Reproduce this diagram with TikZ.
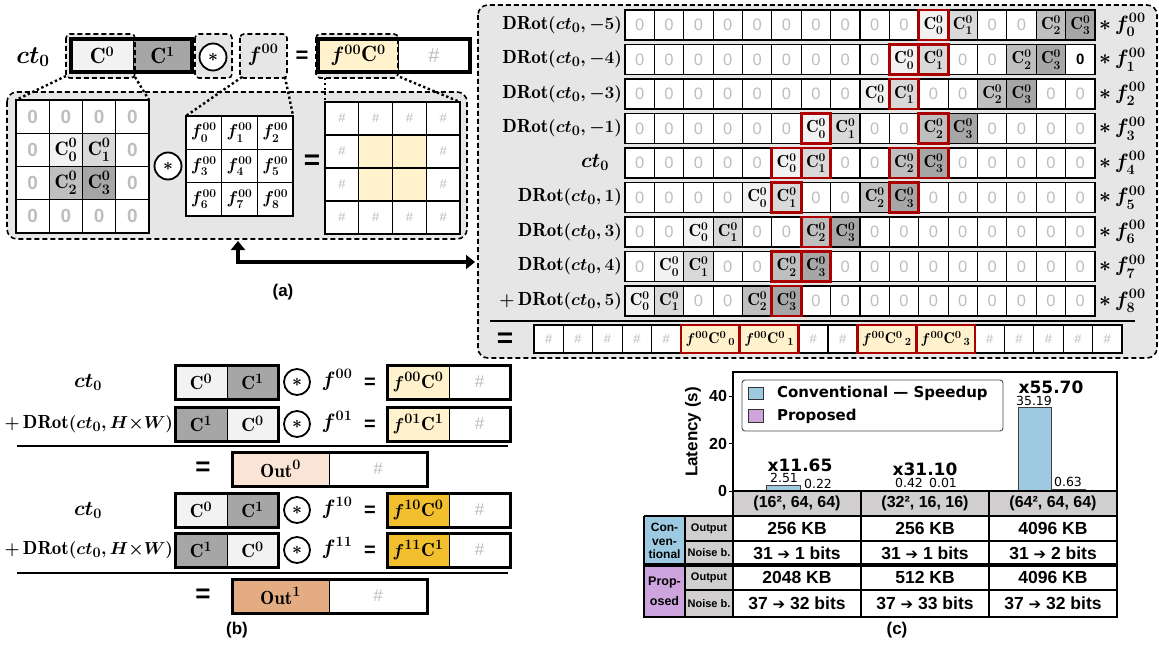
\documentclass[tikz,border=0pt]{standalone}
\usepackage{amsmath}
\usepackage{fontspec}
\newfontfamily\arial{Liberation Sans}
\newfontfamily\dejavu{DejaVu Sans}
\usetikzlibrary{arrows.meta}
\definecolor{bgG}{RGB}{231,230,230}
\definecolor{cf0}{RGB}{242,242,242}
\definecolor{cf1}{RGB}{217,217,217}
\definecolor{cf2}{RGB}{191,191,191}
\definecolor{cf3}{RGB}{166,166,166}
\definecolor{yel}{RGB}{255,242,204}
\definecolor{gold}{RGB}{242,192,46}
\definecolor{outA}{RGB}{249,228,214}
\definecolor{outB}{RGB}{228,172,130}
\definecolor{dred}{RGB}{170,0,0}
\definecolor{zg}{RGB}{190,190,190}
\definecolor{blu}{RGB}{158,202,225}
\definecolor{pur}{RGB}{206,164,222}
\definecolor{thg}{RGB}{208,206,206}
\newcommand{\fs}[1]{\fontsize{#1}{#1}\selectfont}
\newcommand{\zr}{{\arial\fs{16.5}\color{zg}0}}
\newcommand{\zrb}{{\arial\bfseries\fs{19}\color{zg}0}}
\newcommand{\hs}{{\arial\fs{13}\color{zg}\#}}
\newcommand{\hsb}{{\arial\fs{17}\color{zg}\#}}
\newcommand{\bmth}[2]{{\fs{#1}\boldmath$#2$}}
\newcommand{\Cz}[1]{\bmth{17.5}{\mathrm{C}^0_{#1}}}
\newcommand{\Cb}[1]{\bmth{19.5}{\mathrm{C}^0_{#1}}}
% #1 row, #2 zero cells, #3 C cells col/idx, #4 f index
\newcommand{\prow}[4]{%
  \pgfmathsetmacro{\yc}{25+34.5*#1}
  \foreach \c in {#2}{\node[pc] (p#1-\c) at ({625+29.375*(\c+0.5)},\yc) {\zr};}
  \foreach \c/\n in {#3}{\node[pc,fill=cf\n] (q#1-\c) at ({625+29.375*(\c+0.5)},\yc) {\Cz{\n}};}
  \draw[line width=1.8pt] (625,\yc-15) rectangle (1095,\yc+15);
  \node[anchor=west] (fl#1) at (1099,\yc) {\bmth{22}{\ast\,f^{00}_{#4}}};
}
\begin{document}
\begin{tikzpicture}[x=1pt,y=-1pt,
  every node/.style={inner sep=0pt, outer sep=0pt},
  dsh/.style={dash pattern=on 5pt off 3pt, line width=1.6pt},
  pc/.style={draw=black, line width=1.1pt, fill=white, minimum width=29.375pt, minimum height=30pt},
  lg/.style={draw=black, line width=1.1pt, fill=white, minimum width=33.25pt, minimum height=33.25pt},
  fg/.style={draw=black, line width=1.1pt, fill=white, minimum width=35.7pt, minimum height=33.3pt},
  og/.style={draw=black, line width=1.1pt, fill=white, minimum width=33.75pt, minimum height=33pt},
  oc/.style={circle, draw=black, line width=1.8pt, fill=white, minimum size=27pt},
  bc/.style={draw=black, line width=1pt, minimum height=34pt},
  dotl/.style={line width=2.4pt, dash pattern=on 2.4pt off 2.6pt},
  rb/.style={draw=dred, line width=2.8pt},
  tl/.style={line width=1.1pt},
]
\useasboundingbox (0,0) rectangle (1159,647);

% ================= (a) left =================
\draw[dsh, fill=bgG, rounded corners=10pt] (7,92) rectangle (467,239);
\fill[bgG, rounded corners=4pt] (66,34) rectangle (135,78);
\fill[bgG, rounded corners=4pt] (195,34) rectangle (232,78);
\fill[bgG, rounded corners=4pt] (240,34) rectangle (287,78);
\fill[bgG, rounded corners=4pt] (316,34) rectangle (398,78);
\node (ctA) at (33,57) {\bmth{23}{ct_0}};
\node[draw=black, line width=1pt, fill=cf0, minimum width=62pt, minimum height=33pt] (tC0) at (102,55.5) {\bmth{22}{\mathrm{C}^0}};
\node[draw=black, line width=1pt, fill=cf3, minimum width=59pt, minimum height=33pt] (tC1) at (162.5,55.5) {\bmth{22}{\mathrm{C}^1}};
\draw[line width=3.5pt] (71,39) rectangle (192,72);
\node[oc] (tO) at (213,57) {\bmth{18}{\ast}};
\node (tF) at (263,55) {\bmth{22}{f^{00}}};
\node (tE) at (302,57) {\arial\bfseries\fs{22}=};
\node[draw=black, line width=1pt, fill=yel, minimum width=80pt, minimum height=33pt] (tY) at (358,55.5) {\bmth{22}{f^{00}\mathrm{C}^0}};
\node[draw=black, line width=1pt, fill=white, minimum width=72pt, minimum height=33pt] (tH) at (434,55.5) {{\arial\fs{20}\color{zg}\#}};
\draw[line width=3.5pt] (318,39) rectangle (470,72);
\draw[dsh, rounded corners=4pt] (66,34) rectangle (135,78);
\draw[dsh, rounded corners=4pt] (195,34) rectangle (232,78);
\draw[dsh, rounded corners=4pt] (240,34) rectangle (287,78);
\draw[dsh, rounded corners=4pt] (316,34) rectangle (398,78);

% left 4x4 grid
\foreach \i/\j in {0/0,0/1,0/2,0/3,1/0,1/3,2/0,2/3,3/0,3/1,3/2,3/3}
  \node[lg] (L\i\j) at ({16+33.25*(\j+0.5)},{100+33.25*(\i+0.5)}) {\zrb};
\node[lg,fill=cf0] (LC0) at ({16+33.25*1.5},{100+33.25*1.5}) {\Cb{0}};
\node[lg,fill=cf1] (LC1) at ({16+33.25*2.5},{100+33.25*1.5}) {\Cb{1}};
\node[lg,fill=cf2] (LC2) at ({16+33.25*1.5},{100+33.25*2.5}) {\Cb{2}};
\node[lg,fill=cf3] (LC3) at ({16+33.25*2.5},{100+33.25*2.5}) {\Cb{3}};
\draw[line width=1.8pt] (L00.north west) rectangle (L33.south east);
% filter grid
\foreach \k [evaluate=\k as \i using {int(\k/3)}, evaluate=\k as \j using {int(mod(\k,3))}] in {0,...,8}{
  \node[fg] (F\k) at ({186+35.7*(\j+0.5)},{116+33.3*(\i+0.5)}) {\bmth{17.5}{f^{00}_{\k}}};}
\draw[line width=1.8pt] (F0.north west) rectangle (F8.south east);
\node[oc] (mO) at (168,166) {\bmth{18}{\ast}};
\node (mE) at (312,162) {\arial\bfseries\fs{28}=};
% output grid
\foreach \i/\j in {0/0,0/1,0/2,0/3,1/0,1/3,2/0,2/3,3/0,3/1,3/2,3/3}
  \node[og] (O\i\j) at ({325+33.75*(\j+0.5)},{102+33*(\i+0.5)}) {\hs};
\foreach \i in {1,2}{\foreach \j in {1,2}{
  \node[og,fill=yel] (OY\i\j) at ({325+33.75*(\j+0.5)},{102+33*(\i+0.5)}) {};}}
\draw[line width=1.8pt] (O00.north west) rectangle (O33.south east);
% dotted connectors
\draw[dotl] (66,76) -- (L00.north west);
\draw[dotl] (135,77) -- (L03.north east);
\draw[dotl] (242,77) -- (F0.north west);
\draw[dotl] (285,77) -- (F2.north east);
\draw[dotl] (325,78) -- (O00.north west);
\draw[dotl] (400,77) -- (O03.north east);
% arrow
\coordinate (aA) at (238,241);
\coordinate (aB) at (475,262);
\draw[line width=3.5pt, {Triangle[length=9pt,width=14pt]}-{Triangle[length=9pt,width=14pt]}] (aA) |- (aB);
\node (capA) at (283,292) {\arial\bfseries\fs{17}(a)};

% ================= (a) right panel =================
\draw[dsh, fill=bgG, rounded corners=10pt] (478,5) rectangle (1157,358);
\prow{0}{0,...,9,12,13}{10/0,11/1,14/2,15/3}{0}
\prow{1}{0,...,8,11,12}{9/0,10/1,13/2,14/3}{1}
\prow{2}{0,...,7,10,11,14,15}{8/0,9/1,12/2,13/3}{2}
\prow{3}{0,...,5,8,9,12,13,14,15}{6/0,7/1,10/2,11/3}{3}
\prow{4}{0,...,4,7,8,11,12,13,14,15}{5/0,6/1,9/2,10/3}{4}
\prow{5}{0,...,3,6,7,10,11,12,13,14,15}{4/0,5/1,8/2,9/3}{5}
\prow{6}{0,1,4,5,8,9,10,11,12,13,14,15}{2/0,3/1,6/2,7/3}{6}
\prow{7}{0,3,4,7,8,9,10,11,12,13,14,15}{1/0,2/1,5/2,6/3}{7}
\prow{8}{2,3,6,7,8,9,10,11,12,13,14,15}{0/0,1/1,4/2,5/3}{8}
\node[pc] (p1-15) at ({625+29.375*15.5},59.5) {\arial\bfseries\fs{15}0};
\draw[line width=1.8pt] (625,44.5) rectangle (1095,74.5);
\foreach \r/\c in {0/10,1/9,1/10,2/9,3/6,3/10,4/5,4/6,4/9,4/10,5/5,5/9,6/6,7/5,7/6,8/5}
  \draw[rb] ({625+29.375*\c},{10+34.5*\r}) rectangle ++(29.375,30);
\node[anchor=east] (lb0) at (622,25) {\bmth{19}{\mathrm{DRot}(ct_0,-5)}};
\node[anchor=east] (lb1) at (622,59.5) {\bmth{19}{\mathrm{DRot}(ct_0,-4)}};
\node[anchor=east] (lb2) at (622,94) {\bmth{19}{\mathrm{DRot}(ct_0,-3)}};
\node[anchor=east] (lb3) at (622,128.5) {\bmth{19}{\mathrm{DRot}(ct_0,-1)}};
\node (lb4) at (595,162) {\bmth{21}{ct_0}};
\node[anchor=east] (lb5) at (622,197.5) {\bmth{19}{\mathrm{DRot}(ct_0,1)}};
\node[anchor=east] (lb6) at (622,232) {\bmth{19}{\mathrm{DRot}(ct_0,3)}};
\node[anchor=east] (lb7) at (622,266.5) {\bmth{19}{\mathrm{DRot}(ct_0,4)}};
\node[anchor=east] (lb8) at (622,301) {\bmth{19}{+\,\mathrm{DRot}(ct_0,5)}};
\draw[line width=2pt] (490,321) -- (1135,321);
\node (sumE) at (505,340) {\arial\bfseries\fs{28}=};
% bottom result row
\foreach \u in {0,1,2,3,4,9,10,15,16,17,18,19}
  \node[draw=black, line width=1.1pt, fill=white, minimum width=29.4pt, minimum height=28pt] (s\u) at ({534+29.4*(\u+0.5)},339) {\hs};
\foreach \u/\k in {5/0,7/1,11/2,13/3}
  \node[draw=dred, line width=2.8pt, fill=yel, minimum width=58.8pt, minimum height=28pt] (y\k) at ({534+29.4*(\u+1)},339) {\bmth{15.5}{f^{00}\mathrm{C}^{0}{}_{\,\k}}};

% ================= (b) =================
\node (b1l) at (88,382) {\bmth{20}{ct_0}};
\node[bc, fill=cf0, minimum width=52pt] (b1a) at (201,382) {\bmth{19}{\mathrm{C}^0}};
\node[bc, fill=cf3, minimum width=51pt] (b1b) at (252.5,382) {\bmth{19}{\mathrm{C}^1}};
\draw[line width=3pt] (175,365) rectangle (278,399);
\node[oc, minimum size=26pt] (b1o) at (297,382) {\bmth{16}{\ast}};
\node (b1f) at (337,380) {\bmth{20}{f^{00}}};
\node (b1e) at (370,383) {\arial\bfseries\fs{20}=};
\node[bc, fill=yel, minimum width=62pt] (b1y) at (418,382) {\bmth{19}{f^{00}\mathrm{C}^0}};
\node[bc, fill=white, minimum width=61pt] (b1h) at (479.5,382) {\hsb};
\draw[line width=3pt] (387,365) rectangle (510,399);

\node[anchor=east] (b2l) at (173,424) {\bmth{19}{+\,\mathrm{DRot}(ct_0,H{\times}W)}};
\node[bc, fill=cf3, minimum width=52pt] (b2a) at (201,424) {\bmth{19}{\mathrm{C}^1}};
\node[bc, fill=cf0, minimum width=51pt] (b2b) at (252.5,424) {\bmth{19}{\mathrm{C}^0}};
\draw[line width=3pt] (175,407) rectangle (278,441);
\node[oc, minimum size=26pt] (b2o) at (297,424) {\bmth{16}{\ast}};
\node (b2f) at (337,422) {\bmth{20}{f^{01}}};
\node (b2e) at (370,425) {\arial\bfseries\fs{20}=};
\node[bc, fill=yel, minimum width=62pt] (b2y) at (418,424) {\bmth{19}{f^{01}\mathrm{C}^1}};
\node[bc, fill=white, minimum width=61pt] (b2h) at (479.5,424) {\hsb};
\draw[line width=3pt] (387,407) rectangle (510,441);
\draw[line width=2pt] (17,446) -- (508,446);
\node (b3e) at (203,469) {\arial\bfseries\fs{26}=};
\node[bc, fill=outA, minimum width=97pt] (b3a) at (280.5,469) {\bmth{19}{\mathrm{Out}^0}};
\node[bc, fill=white, minimum width=98pt] (b3b) at (378,469) {\hsb};
\draw[line width=3pt] (232,452) rectangle (427,486);

\node (b4l) at (88,510) {\bmth{20}{ct_0}};
\node[bc, fill=cf0, minimum width=52pt] (b4a) at (201,510) {\bmth{19}{\mathrm{C}^0}};
\node[bc, fill=cf3, minimum width=51pt] (b4b) at (252.5,510) {\bmth{19}{\mathrm{C}^1}};
\draw[line width=3pt] (175,493) rectangle (278,527);
\node[oc, minimum size=26pt] (b4o) at (297,510) {\bmth{16}{\ast}};
\node (b4f) at (337,508) {\bmth{20}{f^{10}}};
\node (b4e) at (370,511) {\arial\bfseries\fs{20}=};
\node[bc, fill=gold, minimum width=62pt] (b4y) at (418,510) {\bmth{19}{f^{10}\mathrm{C}^0}};
\node[bc, fill=white, minimum width=61pt] (b4h) at (479.5,510) {\hsb};
\draw[line width=3pt] (387,493) rectangle (510,527);

\node[anchor=east] (b5l) at (173,550) {\bmth{19}{+\,\mathrm{DRot}(ct_0,H{\times}W)}};
\node[bc, fill=cf3, minimum width=52pt] (b5a) at (201,550) {\bmth{19}{\mathrm{C}^1}};
\node[bc, fill=cf0, minimum width=51pt] (b5b) at (252.5,550) {\bmth{19}{\mathrm{C}^0}};
\draw[line width=3pt] (175,533) rectangle (278,567);
\node[oc, minimum size=26pt] (b5o) at (297,550) {\bmth{16}{\ast}};
\node (b5f) at (337,548) {\bmth{20}{f^{11}}};
\node (b5e) at (370,551) {\arial\bfseries\fs{20}=};
\node[bc, fill=gold, minimum width=62pt] (b5y) at (418,550) {\bmth{19}{f^{11}\mathrm{C}^1}};
\node[bc, fill=white, minimum width=61pt] (b5h) at (479.5,550) {\hsb};
\draw[line width=3pt] (387,533) rectangle (510,567);
\draw[line width=2pt] (17,573) -- (508,573);
\node (b6e) at (203,596) {\arial\bfseries\fs{26}=};
\node[bc, fill=outB, minimum width=97pt] (b6a) at (280.5,596) {\bmth{19}{\mathrm{Out}^1}};
\node[bc, fill=white, minimum width=98pt] (b6b) at (378,596) {\hsb};
\draw[line width=3pt] (232,579) rectangle (427,613);
\node (capB) at (237,630) {\arial\bfseries\fs{17}(b)};

% ================= (c) =================
\node[rotate=90] (ylab) at (693,432) {\arial\bfseries\fs{17}Latency (s)};
\foreach \v/\yy in {0/491,20/443.5,40/396}{
  \draw[line width=1pt] (729,\yy) -- (733,\yy);
  \node[anchor=east] (tk\v) at (727,\yy) {\arial\bfseries\fs{16}\v};}
% bars
\draw[fill=blu, draw=black!75, line width=0.8pt] (766,491) rectangle (800,485.0);
\draw[fill=pur, draw=black!75, line width=0.8pt] (800,491) rectangle (834,490.4);
\draw[fill=blu, draw=black!75, line width=0.8pt] (892,491) rectangle (926,490.0);
\draw[fill=pur, draw=black!75, line width=0.8pt] (926,491) rectangle (960,490.8);
\draw[fill=blu, draw=black!75, line width=0.8pt] (1018,491) rectangle (1051,407.4);
\draw[fill=pur, draw=black!75, line width=0.8pt] (1051,491) rectangle (1085,489.5);
\node (v1) at (784,478) {\dejavu\fs{12.5}2.51};
\node (v2) at (818,484) {\dejavu\fs{12.5}0.22};
\node (v3) at (909,483) {\dejavu\fs{12.5}0.42};
\node (v4) at (943,483) {\dejavu\fs{12.5}0.01};
\node (v5) at (1034,401) {\dejavu\fs{12.5}35.19};
\node (v6) at (1068,482) {\dejavu\fs{12.5}0.63};
\node (s1) at (800,465) {\dejavu\bfseries\fs{17}x11.65};
\node (s2) at (925,469) {\dejavu\bfseries\fs{17}x31.10};
\node (s3) at (1051,387) {\dejavu\bfseries\fs{17}x55.70};
% legend
\draw[draw=black!70, line width=0.9pt, fill=white, rounded corners=3pt] (742,380) rectangle (1003,431);
\draw[fill=blu, draw=black!80, line width=0.8pt] (748,387) rectangle (763,399);
\draw[fill=pur, draw=black!80, line width=0.8pt] (748,409) rectangle (763,422);
\node[anchor=west] (lg1) at (777,393) {\dejavu\bfseries\fs{15}Conventional — Speedup};
\node[anchor=west] (lg2) at (777,416) {\dejavu\bfseries\fs{15}Proposed};
% table
\fill[thg] (733,491) rectangle (1117,516);
\fill[blu] (644,516) rectangle (685,565);
\fill[pur] (644,565) rectangle (685,617);
\fill[thg] (685,516) rectangle (733,617);
\draw[tl] (685,541) -- (1117,541);
\draw[tl] (685,590) -- (1117,590);
\draw[tl] (733,516) -- (1117,516);
\draw[tl] (644,516) -- (733,516);
\draw[tl] (685,516) -- (685,617);
\draw[tl] (733,491) -- (733,617);
\draw[tl] (861,491) -- (861,617);
\draw[tl] (989,491) -- (989,617);
\draw[line width=3.5pt] (644,565) -- (1117,565);
\draw[line width=2pt] (644,516) -- (644,617) -- (1117,617) -- (1117,372) -- (733,372) -- (733,491);
\draw[line width=1.5pt] (733,491) -- (1117,491);
\node (h1) at (797,503.5) {\arial\bfseries\fs{16}(16², 64, 64)};
\node (h2) at (925,503.5) {\arial\bfseries\fs{16}(32², 16, 16)};
\node (h3) at (1053,503.5) {\arial\bfseries\fs{16}(64², 64, 64)};
\node[align=center, font={\arial\bfseries\fontsize{12}{13.5}\selectfont}] (cv) at (664.5,541) {Con-\\ven-\\tional};
\node[align=center, font={\arial\bfseries\fontsize{12.5}{20}\selectfont}] (pp) at (664.5,591) {Prop-\\osed};
\node (o1) at (709,528.5) {\arial\bfseries\fs{11}Output};
\node (n1) at (709,553) {\arial\bfseries\fs{11}Noise b.};
\node (o2) at (709,577.5) {\arial\bfseries\fs{11}Output};
\node (n2) at (709,603.5) {\arial\bfseries\fs{11}Noise b.};
\node (t11) at (797,528.5) {\arial\bfseries\fs{17.5}256 KB};
\node (t12) at (925,528.5) {\arial\bfseries\fs{17.5}256 KB};
\node (t13) at (1053,528.5) {\arial\bfseries\fs{17.5}4096 KB};
\node (t21) at (797,553) {\arial\bfseries\fs{17.5}31 {\dejavu\fs{15}➔} 1 bits};
\node (t22) at (925,553) {\arial\bfseries\fs{17.5}31 {\dejavu\fs{15}➔} 1 bits};
\node (t23) at (1053,553) {\arial\bfseries\fs{17.5}31 {\dejavu\fs{15}➔} 2 bits};
\node (t31) at (797,577.5) {\arial\bfseries\fs{17.5}2048 KB};
\node (t32) at (925,577.5) {\arial\bfseries\fs{17.5}512 KB};
\node (t33) at (1053,577.5) {\arial\bfseries\fs{17.5}4096 KB};
\node (t41) at (797,603.5) {\arial\bfseries\fs{17.5}37 {\dejavu\fs{15}➔} 32 bits};
\node (t42) at (925,603.5) {\arial\bfseries\fs{17.5}37 {\dejavu\fs{15}➔} 33 bits};
\node (t43) at (1053,603.5) {\arial\bfseries\fs{17.5}37 {\dejavu\fs{15}➔} 32 bits};
\node (capC) at (897,630) {\arial\bfseries\fs{17}(c)};
\end{tikzpicture}
\end{document}
